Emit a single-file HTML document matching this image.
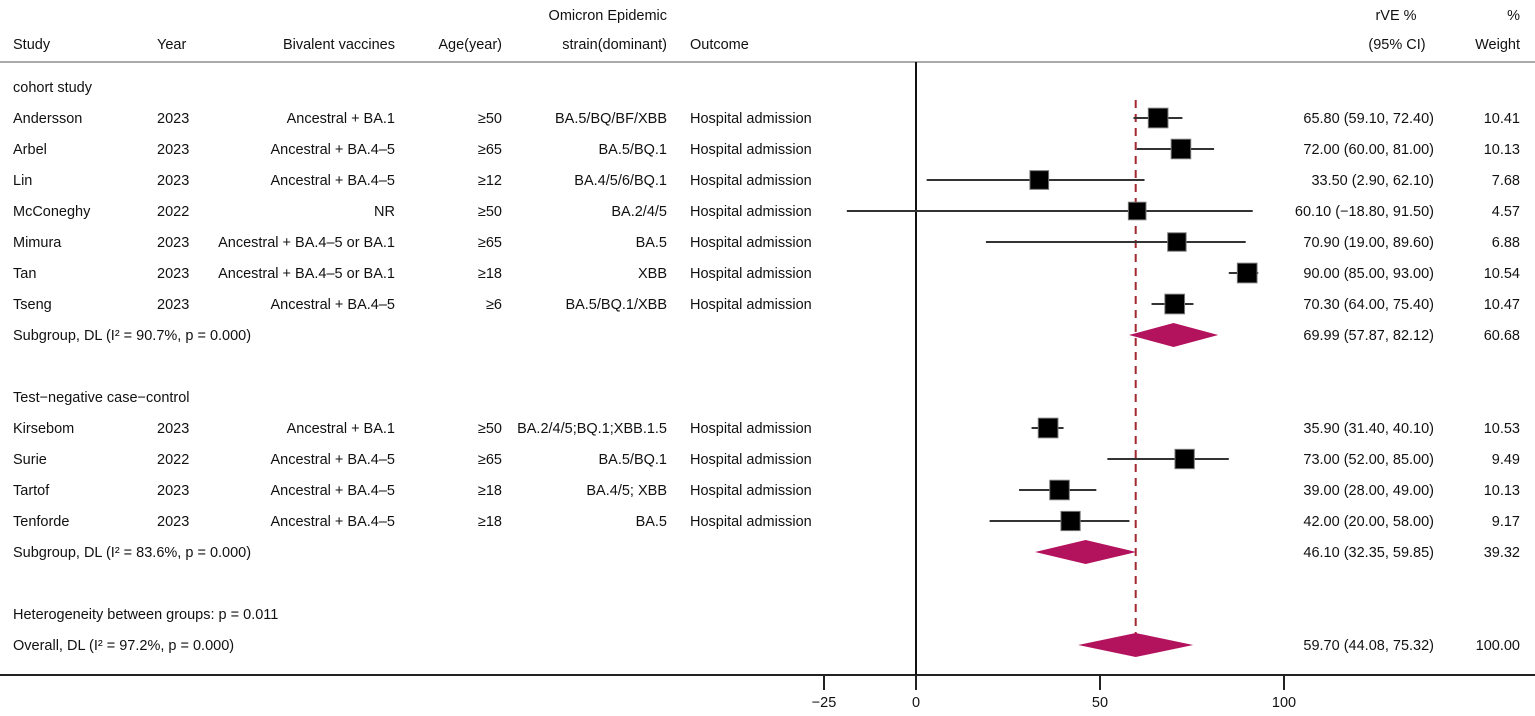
<!DOCTYPE html>
<html><head><meta charset="utf-8"><style>
html,body{margin:0;padding:0;background:#fff;}
svg{display:block;font-family:"Liberation Sans","DejaVu Sans",sans-serif;}
svg text{font-size:14.5px;fill:#111;}
</style></head><body>
<svg id="plot" width="1535" height="716" viewBox="0 0 1535 716"></svg>
<script>
const studies = ["Andersson","Arbel","Lin","McConeghy","Mimura","Tan","Tseng","Kirsebom","Surie","Tartof","Tenforde"];
const years = ["2023","2023","2023","2022","2023","2023","2023","2023","2022","2023","2023"];
const vaccines = ["Ancestral + BA.1","Ancestral + BA.4\u20135","Ancestral + BA.4\u20135","NR","Ancestral + BA.4\u20135 or BA.1","Ancestral + BA.4\u20135 or BA.1","Ancestral + BA.4\u20135","Ancestral + BA.1","Ancestral + BA.4\u20135","Ancestral + BA.4\u20135","Ancestral + BA.4\u20135"];
const ages = ["\u226550","\u226565","\u226512","\u226550","\u226565","\u226518","\u22656","\u226550","\u226565","\u226518","\u226518"];
const strains = ["BA.5/BQ/BF/XBB","BA.5/BQ.1","BA.4/5/6/BQ.1","BA.2/4/5","BA.5","XBB","BA.5/BQ.1/XBB","BA.2/4/5;BQ.1;XBB.1.5","BA.5/BQ.1","BA.4/5; XBB","BA.5"];
const est = [65.8,72.0,33.5,60.1,70.9,90.0,70.3,35.9,73.0,39.0,42.0];
const lo = [59.1,60.0,2.9,-18.8,19.0,85.0,64.0,31.4,52.0,28.0,20.0];
const hi = [72.4,81.0,62.1,91.5,89.6,93.0,75.4,40.1,85.0,49.0,58.0];
const weights = [10.41,10.13,7.68,4.57,6.88,10.54,10.47,10.53,9.49,10.13,9.17];
const rowIdx = [1,2,3,4,5,6,7,11,12,13,14];
const poolLabels = ["Subgroup, DL (I\u00b2 = 90.7%, p = 0.000)","Subgroup, DL (I\u00b2 = 83.6%, p = 0.000)","Overall, DL (I\u00b2 = 97.2%, p = 0.000)"];
const poolEst = [69.99,46.10,59.70];
const poolLo = [57.87,32.35,44.08];
const poolHi = [82.12,59.85,75.32];
const poolW = [60.68,39.32,100.00];
const poolRow = [8,15,18];
const xTicks = [-25,0,50,100];

const svg = document.getElementById('plot');
const NS = 'http://www.w3.org/2000/svg';
const X = v => 916 + v * 3.68;
const Y = r => 87 + r * 31;
function mk(tag, attrs){const e=document.createElementNS(NS,tag);for(const k in attrs)e.setAttribute(k,attrs[k]);svg.appendChild(e);return e;}
function txt(x,y,s,anchor,name){const t=mk('text',{x:x,y:y+5,'text-anchor':anchor||'start'});t.textContent=s;


return t;}
const fmt=v=>(v<0?'\u2212'+Math.abs(v).toFixed(2):v.toFixed(2));

txt(667,15,'Omicron Epidemic','end','header-omicron');
txt(1396,15,'rVE %','middle','header-rve');
txt(1520,15,'%','end','header-pct');
txt(13,44,'Study','start','header-study');
txt(157,44,'Year','start','header-year');
txt(395,44,'Bivalent vaccines','end','header-vaccines');
txt(502,44,'Age(year)','end','header-age');
txt(667,44,'strain(dominant)','end','header-strain');
txt(690,44,'Outcome','start','header-outcome');
txt(1397,44,'(95% CI)','middle','header-ci');
txt(1520,44,'Weight','end','header-weight');
let l=mk('line',{x1:0,y1:62,x2:1535,y2:62,stroke:'#aaa','stroke-width':2});


l=mk('line',{x1:0,y1:675,x2:1535,y2:675,stroke:'#222','stroke-width':2});


l=mk('line',{x1:X(0),y1:62,x2:X(0),y2:675,stroke:'#111','stroke-width':2});


l=mk('line',{x1:X(poolEst[2]),y1:100,x2:X(poolEst[2]),y2:658,stroke:'#a3282e','stroke-width':2,'stroke-dasharray':'8,6'});


xTicks.forEach(t=>{
  const tk=mk('line',{x1:X(t),y1:675,x2:X(t),y2:690,stroke:'#222','stroke-width':2});
  
  
  txt(X(t),702,t<0?'\u2212'+Math.abs(t):String(t),'middle','x-tick-label');
});

txt(13,Y(0),'cohort study','start','group-label-cohort');
txt(13,Y(10),'Test\u2212negative case\u2212control','start','group-label-tnd');
txt(13,Y(17),'Heterogeneity between groups: p = 0.011','start','heterogeneity-label');

studies.forEach((s,i)=>{
  const y=Y(rowIdx[i]);
  txt(13,y,s,'start','study-name');
  txt(157,y,years[i],'start','study-year');
  txt(395,y,vaccines[i],'end','study-vaccine');
  txt(502,y,ages[i],'end','study-age');
  txt(667,y,strains[i],'end','study-strain');
  txt(690,y,'Hospital admission','start','study-outcome');
  txt(1434,y,fmt(est[i])+' ('+fmt(lo[i])+', '+fmt(hi[i])+')','end','study-ci');
  txt(1520,y,weights[i].toFixed(2),'end','study-weight');
  const ci=mk('line',{x1:X(lo[i]),y1:y,x2:X(hi[i]),y2:y,stroke:'#333','stroke-width':2});
  
  
  const sz=16+0.35*weights[i];
  const sq=mk('rect',{x:X(est[i])-sz/2,y:y-sz/2,width:sz,height:sz,fill:'#000',stroke:'#777','stroke-width':1});
  
  
});
poolLabels.forEach((s,i)=>{
  const y=Y(poolRow[i]);
  txt(13,y,s,'start','pooled-label');
  txt(1434,y,fmt(poolEst[i])+' ('+fmt(poolLo[i])+', '+fmt(poolHi[i])+')','end','pooled-ci');
  txt(1520,y,poolW[i].toFixed(2),'end','pooled-weight');
  const d=mk('polygon',{points:`${X(poolLo[i])},${y} ${X(poolEst[i])},${y-12} ${X(poolHi[i])},${y} ${X(poolEst[i])},${y+12}`,fill:'#b3125c'});
  
  
});
</script>
</body></html>
